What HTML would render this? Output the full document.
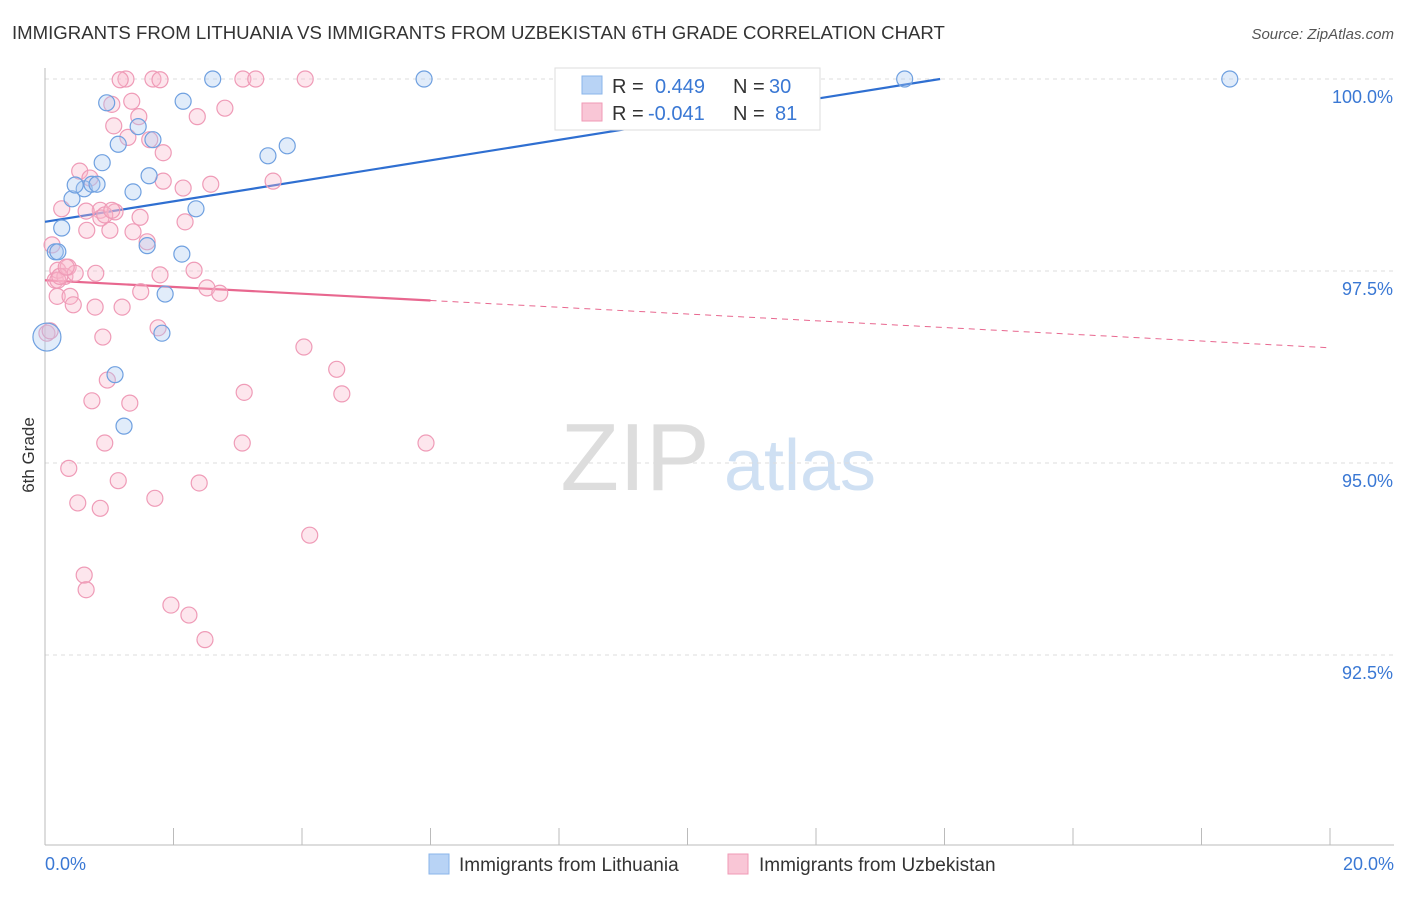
<!DOCTYPE html>
<html><head><meta charset="utf-8"><style>
body{margin:0;background:#fff;font-family:"Liberation Sans",sans-serif;}
svg text{font-family:"Liberation Sans",sans-serif;}
</style></head><body>
<svg id="c" width="1406" height="892" xmlns="http://www.w3.org/2000/svg">
<text x="12" y="39" font-size="18.6" fill="#333">IMMIGRANTS FROM LITHUANIA VS IMMIGRANTS FROM UZBEKISTAN 6TH GRADE CORRELATION CHART</text>
<text x="1394" y="39" font-size="15" fill="#555" text-anchor="end" font-style="italic">Source: ZipAtlas.com</text>
<text x="34" y="455" font-size="17" fill="#333" text-anchor="middle" transform="rotate(-90 34 455)">6th Grade</text>
<g><text x="635" y="490" font-size="96" fill="#ddd" text-anchor="middle" font-family="Liberation Serif">ZIP</text><text x="800" y="490" font-size="72" fill="#cfe0f3" text-anchor="middle">atlas</text></g>
<g id="grid"></g><g id="axes"></g><g id="lines"></g><g id="pts"></g>
<g>
<rect x="555" y="68" width="265" height="62" fill="#fff" stroke="#ddd"/>
<rect x="582" y="76" width="20" height="18" fill="#b8d3f5" stroke="#8ab4ea"/>
<text x="612" y="93" font-size="20" fill="#333">R = </text><text x="655" y="93" font-size="20" fill="#3a78d4">0.449</text>
<text x="733" y="93" font-size="20" fill="#333">N = </text><text x="769" y="93" font-size="20" fill="#3a78d4">30</text>
<rect x="582" y="103" width="20" height="18" fill="#f9c6d6" stroke="#f09ab6"/>
<text x="612" y="120" font-size="20" fill="#333">R = </text><text x="648" y="120" font-size="20" fill="#3a78d4">-0.041</text>
<text x="733" y="120" font-size="20" fill="#333">N = </text><text x="775" y="120" font-size="20" fill="#3a78d4">81</text>
</g>
<g>
<rect x="429" y="854" width="20" height="20" fill="#b8d3f5" stroke="#8ab4ea"/>
<text x="459" y="871" font-size="19" fill="#333">Immigrants from Lithuania</text>
<rect x="728" y="854" width="20" height="20" fill="#f9c6d6" stroke="#f09ab6"/>
<text x="759" y="871" font-size="19" fill="#333">Immigrants from Uzbekistan</text>
</g>
</svg>
<script>
const yTicks=[100,97.5,95,92.5];
const yTickLabels=["100.0%","97.5%","95.0%","92.5%"];
const xTickLabels=["0.0%","20.0%"];
const blueX=[0.16,0.26,0.42,0.61,0.47,0.73,0.81,0.89,0.96,1.14,1.23,1.09,1.37,1.45,1.59,1.62,1.68,1.82,1.87,2.15,2.13,2.35,2.61,3.47,3.77,5.90,13.38,18.44,0.03,0.20];
const blueY=[97.75,98.06,98.44,98.57,98.62,98.63,98.63,98.91,99.69,99.15,95.48,96.15,98.53,99.38,97.83,98.74,99.21,96.69,97.20,99.71,97.72,98.31,100,99.0,99.13,100,100,100,96.64,97.75];
const pinkX=[0.03,0.08,0.11,0.16,0.19,0.20,0.26,0.31,0.36,0.37,0.39,0.44,0.47,0.51,0.54,0.61,0.64,0.65,0.70,0.73,0.78,0.79,0.86,0.86,0.87,0.90,0.93,0.97,1.01,1.04,1.07,1.09,1.14,1.20,1.26,1.29,1.32,1.35,1.37,1.46,1.48,1.49,1.59,1.63,1.68,1.71,1.76,1.79,1.84,1.84,1.96,2.15,2.18,2.24,2.32,2.37,2.40,2.49,2.52,2.58,2.72,2.80,3.08,3.10,3.07,3.28,3.55,4.03,4.05,4.12,4.54,4.62,5.93,0.20,0.23,0.33,0.64,0.93,1.04,1.17,1.79];
const pinkY=[96.69,96.72,97.84,97.38,97.17,97.51,98.31,97.43,97.55,94.93,97.17,97.06,97.47,94.48,98.80,93.54,93.35,98.03,98.71,95.81,97.03,97.47,94.41,98.29,98.19,96.64,95.26,96.08,98.03,99.67,99.39,98.27,94.77,97.03,100,99.24,95.78,99.71,98.01,99.51,98.20,97.23,97.88,99.21,100,94.54,96.76,97.45,98.67,99.04,93.15,98.58,98.14,93.02,97.51,99.51,94.74,92.70,97.28,98.63,97.21,99.62,100,95.92,95.26,100,98.67,96.51,100,94.06,96.22,95.90,95.26,97.38,97.43,97.55,98.28,98.23,98.29,99.99,99.99];
const blueFit=[98.14,0.1335];
const pinkFit=[97.38,-0.044];
const NS="http://www.w3.org/2000/svg";
const X0=45,X1=1330,YTOP=79,PX=76.8;
const xs=v=>X0+(v/20)*(X1-X0);
const ys=v=>YTOP+(100-v)*PX;
function mk(p,t,a){const e=document.createElementNS(NS,t);for(const k in a)e.setAttribute(k,a[k]);document.getElementById(p).appendChild(e);return e;}
yTicks.forEach((t,i)=>{
 const l=mk('grid','line',{x1:X0,x2:1394,y1:ys(t),y2:ys(t),stroke:'#ddd','stroke-dasharray':'4,4'});
 
 
 const tx=mk('grid','text',{x:1393,y:ys(t)+24,'font-size':18,fill:'#3a78d4','text-anchor':'end'});
 tx.textContent=yTickLabels[i];
 
 
});
const ax=mk('axes','line',{x1:X0,x2:X0,y1:68,y2:845,stroke:'#bbb'});


const bx=mk('axes','line',{x1:X0,x2:1394,y1:845,y2:845,stroke:'#bbb'});


for(let i=0;i<=10;i++){
 const t=mk('axes','line',{x1:xs(i*2),x2:xs(i*2),y1:828,y2:845,stroke:'#bbb'});
 
 
}
[[0,'start',45],[20,'end',1394]].forEach((d,i)=>{
 const t=mk('axes','text',{x:d[2],y:870,'font-size':18,fill:'#3a78d4','text-anchor':d[1]});
 t.textContent=xTickLabels[i];
 
 
});
function dot(x,y,fill,stroke,r){
 const c=mk('pts','circle',{cx:xs(x),cy:ys(y),r:r,fill:fill,stroke:stroke,'stroke-width':1.2});
 
 
}
pinkX.forEach((x,i)=>dot(x,pinkY[i],'rgba(249,182,204,0.35)','#ef9bb7',8));
blueX.forEach((x,i)=>dot(x,blueY[i],'rgba(168,200,242,0.35)','#6fa0e0',i==28?14:8));
const bEnd=(100-blueFit[0])/blueFit[1];
const bl=mk('lines','line',{x1:xs(0),y1:ys(blueFit[0]),x2:xs(bEnd),y2:ys(100),stroke:'#2f6fd1','stroke-width':2.2});


const p1=mk('lines','line',{x1:xs(0),y1:ys(pinkFit[0]),x2:xs(6),y2:ys(pinkFit[0]+6*pinkFit[1]),stroke:'#e8678f','stroke-width':2.2});


const p2=mk('lines','line',{x1:xs(6),y1:ys(pinkFit[0]+6*pinkFit[1]),x2:xs(20),y2:ys(pinkFit[0]+20*pinkFit[1]),stroke:'#e8678f','stroke-width':1,'stroke-dasharray':'6,5'});


</script>
</body></html>
